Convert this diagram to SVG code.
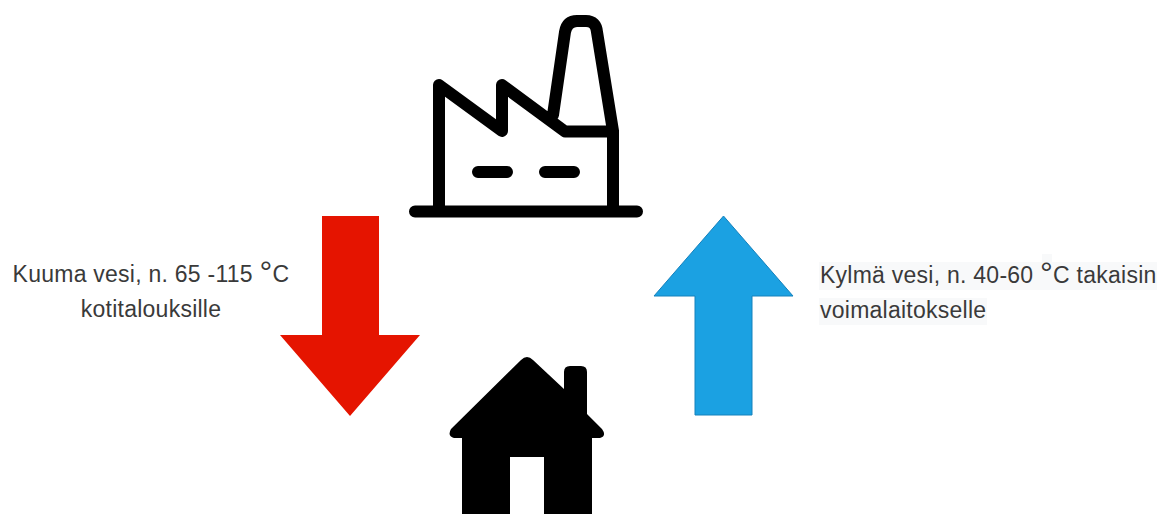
<svg xmlns="http://www.w3.org/2000/svg" width="1159" height="514" viewBox="0 0 1159 514">
<style>
.t{font-family:"Liberation Sans",Arial,sans-serif;font-size:23px;letter-spacing:.25px;fill:#3a3a3a}
.d{font-size:32px}
.l{fill:none;stroke:#000;stroke-width:12;stroke-linecap:round;stroke-linejoin:round}
</style>
<rect width="1159" height="514" fill="#fff"/>
<g id="factory">
<path class="l" d="M415 211.500H637M439 211V85L502 131V85L565 131.500H613V211M613 131L597 32Q596 21 586 21H577Q567 21 565 32L553 115"/>
<path class="l" d="M478 172H507M545 172H574"/>
</g>
<g id="house">
<path d="M521 360Q527 354 533 360L564 389V372Q564 366 570 366H581Q587 366 587 372V414L602 429Q607 436 600 438H592V514H544V457H510V514H462V438H454Q447 436 451 429Z" fill="#000"/>
</g>
<g id="connectors">
<path id="hot-arrow" d="M322 216H379V335H420L350 416L280 335H322Z" fill="#e51400"/>
<path id="cold-arrow" d="M723.5 216L793 296H752V415H695V296H654Z" fill="#1ba1e2" stroke="#1581bc" stroke-width="1"/>
</g>
<g id="label-hot">
<text class="t" x="151" y="282" text-anchor="middle">Kuuma vesi, n. 65 -115 <tspan class="d" dy="1">°</tspan><tspan dy="-1">C</tspan></text>
<text class="t" x="151" y="317" text-anchor="middle">kotitalouksille</text>
</g>
<g id="label-cold">
<rect x="819" y="262" width="338" height="28" fill="#f8f9fa"/>
<rect x="1042" y="254" width="10" height="8" fill="#f8f9fa"/>
<rect x="819" y="298" width="168" height="27" fill="#f8f9fa"/>
<text class="t" x="820" y="283">Kylmä vesi, n. 40-60 <tspan class="d" dy="1">°</tspan><tspan dy="-1">C takaisin</tspan></text>
<text class="t" x="820" y="318">voimalaitokselle</text>
</g>
</svg>
